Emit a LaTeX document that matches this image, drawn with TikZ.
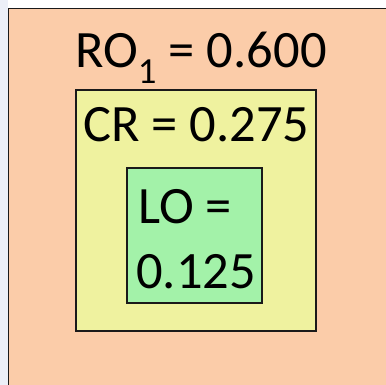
\documentclass[tikz,border=0pt]{standalone}
\usepackage{fontspec}
\setmainfont{Carlito}
\definecolor{bgstrip}{HTML}{ECEFF7}
\definecolor{peach}{HTML}{FBCCA9}
\definecolor{paleyellow}{HTML}{EFF29F}
\definecolor{palegreen}{HTML}{A3F2A9}
\definecolor{edge}{HTML}{1A1A1A}
\begin{document}
\begin{tikzpicture}[x=1pt,y=-1pt,
  boxtext/.style={inner sep=0pt,anchor=base west,font=\fontsize{52.5}{60}\selectfont}]
\useasboundingbox (0,0) rectangle (386,385);
\fill[bgstrip] (0,0) rectangle (386,385);
\fill[white] (8,0) rectangle (386,8);
\path[fill=peach,draw=edge,line width=1.6pt] (8.5,8.5) rectangle (400,400);
\node[draw=edge,fill=paleyellow,line width=2.6pt,minimum width=240pt,minimum height=241pt,inner sep=0pt] (cr) at (196,210.5) {};
\node[draw=edge,fill=palegreen,line width=2.6pt,minimum width=135pt,minimum height=135pt,inner sep=0pt] (lo) at (194.5,235.5) {};
\node[boxtext] (rotext) at (75,68) {RO\textsubscript{1} = 0.600};
\node[boxtext] (crtext) at (83,142) {CR = 0.275};
\node[boxtext] (lotext1) at (138,224) {LO =};
\node[boxtext] (lotext2) at (136,288) {0.125};
\end{tikzpicture}
\end{document}
